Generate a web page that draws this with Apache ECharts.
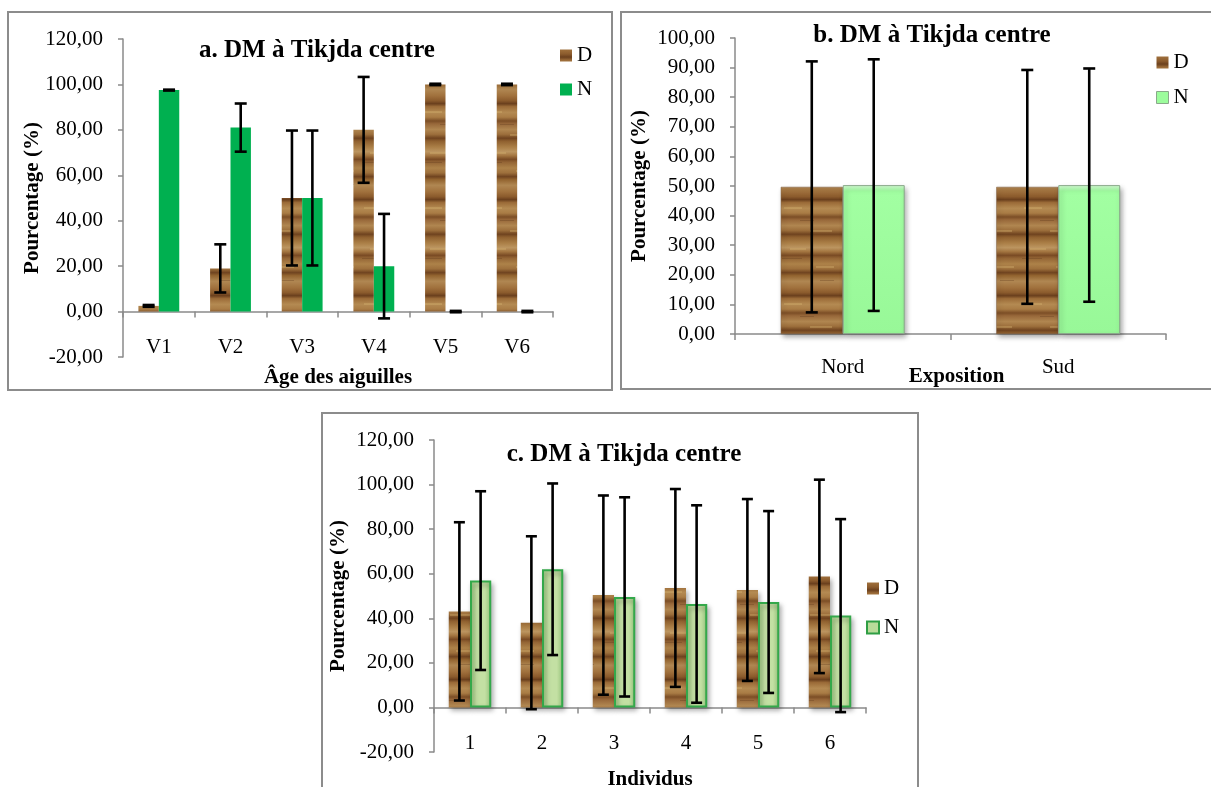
<!DOCTYPE html>
<html>
<head>
<meta charset="utf-8">
<title>DM à Tikjda centre</title>
<script src="https://cdn.jsdelivr.net/npm/echarts@6/dist/echarts.min.js"></script>
<style>
  html, body { margin: 0; padding: 0; background: #ffffff; }
  #chart { width: 1211px; height: 787px; }
</style>
</head>
<body>
<div id="chart"></div>
<script>
// ---- data ----
const ageCats = ['V1', 'V2', 'V3', 'V4', 'V5', 'V6'];
const ageD = [2.5, 19, 50, 80, 100, 100];
const ageN = [97.5, 81, 50, 20, 0, 0];
const ageDErr = [0.4, 10.6, 29.7, 23.3, 0.3, 0.3];
const ageNErr = [0.2, 10.6, 29.7, 23.0, 0.3, 0.3];

const expoCats = ['Nord', 'Sud'];
const expoD = [49.7, 49.7];
const expoN = [50.3, 50.3];
const expoDErr = [42.4, 39.5];
const expoNErr = [42.5, 39.4];

const indivCats = ['1', '2', '3', '4', '5', '6'];
const indivD = [43.1, 38.0, 50.4, 53.6, 52.7, 58.8];
const indivN = [56.9, 62.0, 49.6, 46.4, 47.3, 41.2];
const indivDErr = [40.0, 38.8, 44.7, 44.4, 40.8, 43.4];
const indivNErr = [40.1, 38.5, 44.7, 44.3, 40.8, 43.3];

// ---- styles ----
const SERIF = "'Liberation Serif', 'Times New Roman', serif";
const AXIS_GREY = '#8a8a8a';

// wood grain fill for the D bars: soft horizontal bands of brown
function woodPattern() {
  const stops = [
    [0.00, '#a0703c'], [0.05, '#8a5a2c'], [0.08, '#6a3f1d'], [0.11, '#9b6b38'],
    [0.17, '#b48a52'], [0.22, '#a97c45'], [0.26, '#7c4e26'], [0.29, '#98683a'],
    [0.35, '#b08650'], [0.40, '#9c6e3b'], [0.44, '#6f431f'], [0.47, '#8f602f'],
    [0.53, '#aa7e46'], [0.58, '#bc9560'], [0.62, '#a47641'], [0.66, '#7a4b24'],
    [0.69, '#946535'], [0.75, '#ad8249'], [0.80, '#9e703c'], [0.84, '#704420'],
    [0.87, '#92632f'], [0.93, '#b08752'], [1.00, '#a0703c']
  ];
  const c = document.createElement('canvas');
  c.width = 60; c.height = 96;
  const ctx = c.getContext('2d');
  const g = ctx.createLinearGradient(0, 0, 0, c.height);
  stops.forEach(s => g.addColorStop(s[0], s[1]));
  ctx.fillStyle = g;
  ctx.fillRect(0, 0, c.width, c.height);
  // lighter streaks and knots along the grain
  ctx.fillStyle = 'rgba(215,180,115,0.35)';
  ctx.fillRect(4, 15, 18, 2); ctx.fillRect(30, 38, 22, 2); ctx.fillRect(10, 56, 16, 2); ctx.fillRect(36, 74, 18, 2);
  ctx.fillStyle = 'rgba(80,45,20,0.25)';
  ctx.fillRect(20, 28, 14, 1); ctx.fillRect(2, 66, 20, 1); ctx.fillRect(40, 88, 14, 1);
  return { image: c, repeat: 'repeat' };
}
const wood = woodPattern();

const fmt = v => v.toFixed(2).replace('.', ',');

function yAxisFor(gridIndex, min, max, interval, nameGap) {
  return {
    type: 'value', gridIndex, min, max, interval,
    name: 'Pourcentage (%)', nameLocation: 'middle', nameGap, nameMoveOverlap: false,
    nameTextStyle: { fontFamily: SERIF, fontSize: 21, fontWeight: 'bold', color: '#000' },
    axisLine: { show: true, lineStyle: { color: AXIS_GREY, width: 1.5 } },
    axisTick: { show: true, length: 5, lineStyle: { color: AXIS_GREY, width: 1.5 } },
    splitLine: { show: false },
    axisLabel: { formatter: fmt, margin: 20, fontFamily: SERIF, fontSize: 21, color: '#000' }
  };
}

// error bar drawn on top of a grouped bar (side = -1 for left bar, +1 for right bar)
function errorBars(name, xAxisIndex, yAxisIndex, means, errs, side, gapRatio, capW) {
  return {
    type: 'custom', name: name + ' err', xAxisIndex, yAxisIndex, z: 10,
    silent: true, clip: false,
    data: means.map((m, i) => [i, m, errs[i]]),
    renderItem(params, api) {
      const i = api.value(0), m = api.value(1), e = api.value(2);
      const cw = api.size([1, 0])[0];
      const bw = cw * (1 - gapRatio) / 2;
      const x = api.coord([i, m])[0] + side * bw / 2;
      const yTop = api.coord([i, m + e])[1];
      const yBot = api.coord([i, m - e])[1];
      const st = { stroke: '#000', lineWidth: 2.6 };
      return {
        type: 'group',
        children: [
          { type: 'line', shape: { x1: x, y1: yTop, x2: x, y2: yBot }, style: st },
          { type: 'line', shape: { x1: x - capW / 2, y1: yTop, x2: x + capW / 2, y2: yTop }, style: st },
          { type: 'line', shape: { x1: x - capW / 2, y1: yBot, x2: x + capW / 2, y2: yBot }, style: st }
        ]
      };
    }
  };
}

const titleStyle = { fontFamily: SERIF, fontSize: 25, fontWeight: 'bold', color: '#000' };
const labelStyle = { fontFamily: SERIF, fontSize: 21, color: '#000' };
const nameStyle = { fontFamily: SERIF, fontSize: 21, fontWeight: 'bold', color: '#000' };

const greenB = {
  type: 'linear', x: 0, y: 0, x2: 0, y2: 1,
  colorStops: [{ offset: 0, color: '#d8ffd8' }, { offset: 0.04, color: '#a2ffa2' }, { offset: 1, color: '#98f898' }]
};
const greenC = {
  type: 'linear', x: 0, y: 0, x2: 1, y2: 0,
  colorStops: [{ offset: 0, color: '#9ccb80' }, { offset: 0.3, color: '#c3e0a3' }, { offset: 0.7, color: '#c3e0a3' }, { offset: 1, color: '#9ccb80' }]
};
const shadow = { shadowColor: 'rgba(0,0,0,0.35)', shadowBlur: 5, shadowOffsetX: 2, shadowOffsetY: 3 };

const option = {
  backgroundColor: '#ffffff',
  animation: false,
  title: [
    { text: 'a. DM à Tikjda centre', left: 312, top: 33, textAlign: 'center', textStyle: titleStyle },
    { text: 'b. DM à Tikjda centre', left: 927, top: 18, textAlign: 'center', textStyle: titleStyle },
    { text: 'c. DM à Tikjda centre', left: 619, top: 437, textAlign: 'center', textStyle: titleStyle }
  ],
  graphic: [
    { type: 'rect', shape: { x: 8, y: 12, width: 604, height: 378 }, style: { fill: 'none', stroke: '#8c8c8c', lineWidth: 2 }, z: -1 },
    { type: 'rect', shape: { x: 621, y: 12, width: 600, height: 377 }, style: { fill: 'none', stroke: '#8c8c8c', lineWidth: 2 }, z: -1 },
    { type: 'rect', shape: { x: 322, y: 413, width: 596, height: 385 }, style: { fill: 'none', stroke: '#8c8c8c', lineWidth: 2 }, z: -1 }
  ],
  legend: [
    {
      orient: 'vertical', left: 555, top: 40, itemWidth: 12, itemHeight: 12, itemGap: 13, icon: 'rect',
      textStyle: labelStyle, selectedMode: false,
      data: [{ name: 'D', itemStyle: { color: wood } }, { name: 'N', itemStyle: { color: '#00b050' } }]
    },
    {
      orient: 'vertical', left: 1151, top: 47, itemWidth: 12, itemHeight: 12, itemGap: 14, icon: 'rect',
      textStyle: labelStyle, selectedMode: false,
      data: [{ name: 'D', itemStyle: { color: wood } }, { name: 'N', itemStyle: { color: '#9cfc9c', borderColor: '#8aa88a', borderWidth: 1 } }]
    },
    {
      orient: 'vertical', left: 861, top: 573, itemWidth: 12, itemHeight: 12, itemGap: 18, icon: 'rect',
      textStyle: labelStyle, selectedMode: false,
      data: [{ name: 'D', itemStyle: { color: wood } }, { name: 'N', itemStyle: { color: '#b9dc9a', borderColor: '#2f9e44', borderWidth: 2 } }]
    }
  ],
  grid: [
    { left: 123, top: 39, width: 430, height: 318, outerBoundsMode: 'none' },
    { left: 735, top: 38, width: 431, height: 296, outerBoundsMode: 'none' },
    { left: 434, top: 440, width: 432, height: 312, outerBoundsMode: 'none' }
  ],
  xAxis: [
    // a: line through zero with boundary ticks
    {
      type: 'category', gridIndex: 0, data: ageCats,
      axisLine: { onZero: true, lineStyle: { color: AXIS_GREY, width: 1.5 } },
      axisTick: { show: true, length: 6, lineStyle: { color: AXIS_GREY, width: 1.5 } },
      axisLabel: { show: false }
    },
    // a: category labels near the bottom of the plot
    {
      type: 'category', gridIndex: 0, data: ageCats, position: 'bottom',
      axisLine: { show: false, onZero: false }, axisTick: { show: false },
      axisLabel: Object.assign({ margin: -20 }, labelStyle),
      name: 'Âge des aiguilles', nameLocation: 'middle', nameGap: 10,
      nameTextStyle: nameStyle
    },
    // b
    {
      type: 'category', gridIndex: 1, data: expoCats,
      axisLine: { onZero: true, lineStyle: { color: AXIS_GREY, width: 1.5 } },
      axisTick: { show: true, length: 6, lineStyle: { color: AXIS_GREY, width: 1.5 } },
      axisLabel: Object.assign({ margin: 23 }, labelStyle),
      name: 'Exposition', nameLocation: 'middle', nameGap: 32, nameMoveOverlap: false,
      nameTextStyle: Object.assign({ padding: [0, 0, 0, 12] }, nameStyle)
    },
    // c: line through zero
    {
      type: 'category', gridIndex: 2, data: indivCats,
      axisLine: { onZero: true, lineStyle: { color: AXIS_GREY, width: 1.5 } },
      axisTick: { show: true, length: 6, lineStyle: { color: AXIS_GREY, width: 1.5 } },
      axisLabel: { show: false }
    },
    // c: labels near the bottom
    {
      type: 'category', gridIndex: 2, data: indivCats, position: 'bottom',
      axisLine: { show: false, onZero: false }, axisTick: { show: false },
      axisLabel: Object.assign({ margin: -19 }, labelStyle),
      name: 'Individus', nameLocation: 'middle', nameGap: 17,
      nameTextStyle: nameStyle
    }
  ],
  yAxis: [
    yAxisFor(0, -20, 120, 20, 80),
    yAxisFor(1, 0, 100, 10, 85),
    yAxisFor(2, -20, 120, 20, 85)
  ],
  series: [
    // a
    { type: 'bar', name: 'D', xAxisIndex: 0, yAxisIndex: 0, data: ageD, barGap: '0%', barCategoryGap: '43%',
      itemStyle: { color: wood } },
    { type: 'bar', name: 'N', xAxisIndex: 0, yAxisIndex: 0, data: ageN, barGap: '0%', barCategoryGap: '43%',
      itemStyle: { color: '#00b050' } },
    errorBars('D', 0, 0, ageD, ageDErr, -1, 0.43, 12),
    errorBars('N', 0, 0, ageN, ageNErr, 1, 0.43, 12),
    // b
    { type: 'bar', name: 'D', xAxisIndex: 2, yAxisIndex: 1, data: expoD, barGap: '0%', barCategoryGap: '42.5%',
      itemStyle: Object.assign({ color: wood, borderColor: '#7d5a3a', borderWidth: 0.5 }, shadow) },
    { type: 'bar', name: 'N', xAxisIndex: 2, yAxisIndex: 1, data: expoN, barGap: '0%', barCategoryGap: '42.5%',
      itemStyle: Object.assign({ color: greenB, borderColor: '#8aa88a', borderWidth: 1 }, shadow) },
    errorBars('D', 2, 1, expoD, expoDErr, -1, 0.425, 12),
    errorBars('N', 2, 1, expoN, expoNErr, 1, 0.425, 12),
    // c
    { type: 'bar', name: 'D', xAxisIndex: 3, yAxisIndex: 2, data: indivD, barGap: '0%', barCategoryGap: '41%',
      itemStyle: Object.assign({ color: wood }, shadow) },
    { type: 'bar', name: 'N', xAxisIndex: 3, yAxisIndex: 2, data: indivN, barGap: '0%', barCategoryGap: '41%',
      itemStyle: Object.assign({ color: greenC, borderColor: '#34a84a', borderWidth: 2 }, shadow) },
    errorBars('D', 3, 2, indivD, indivDErr, -1, 0.41, 11),
    errorBars('N', 3, 2, indivN, indivNErr, 1, 0.41, 11)
  ]
};

const chart = echarts.init(document.getElementById('chart'), null, { renderer: 'canvas' });
chart.setOption(option);
</script>
</body>
</html>
